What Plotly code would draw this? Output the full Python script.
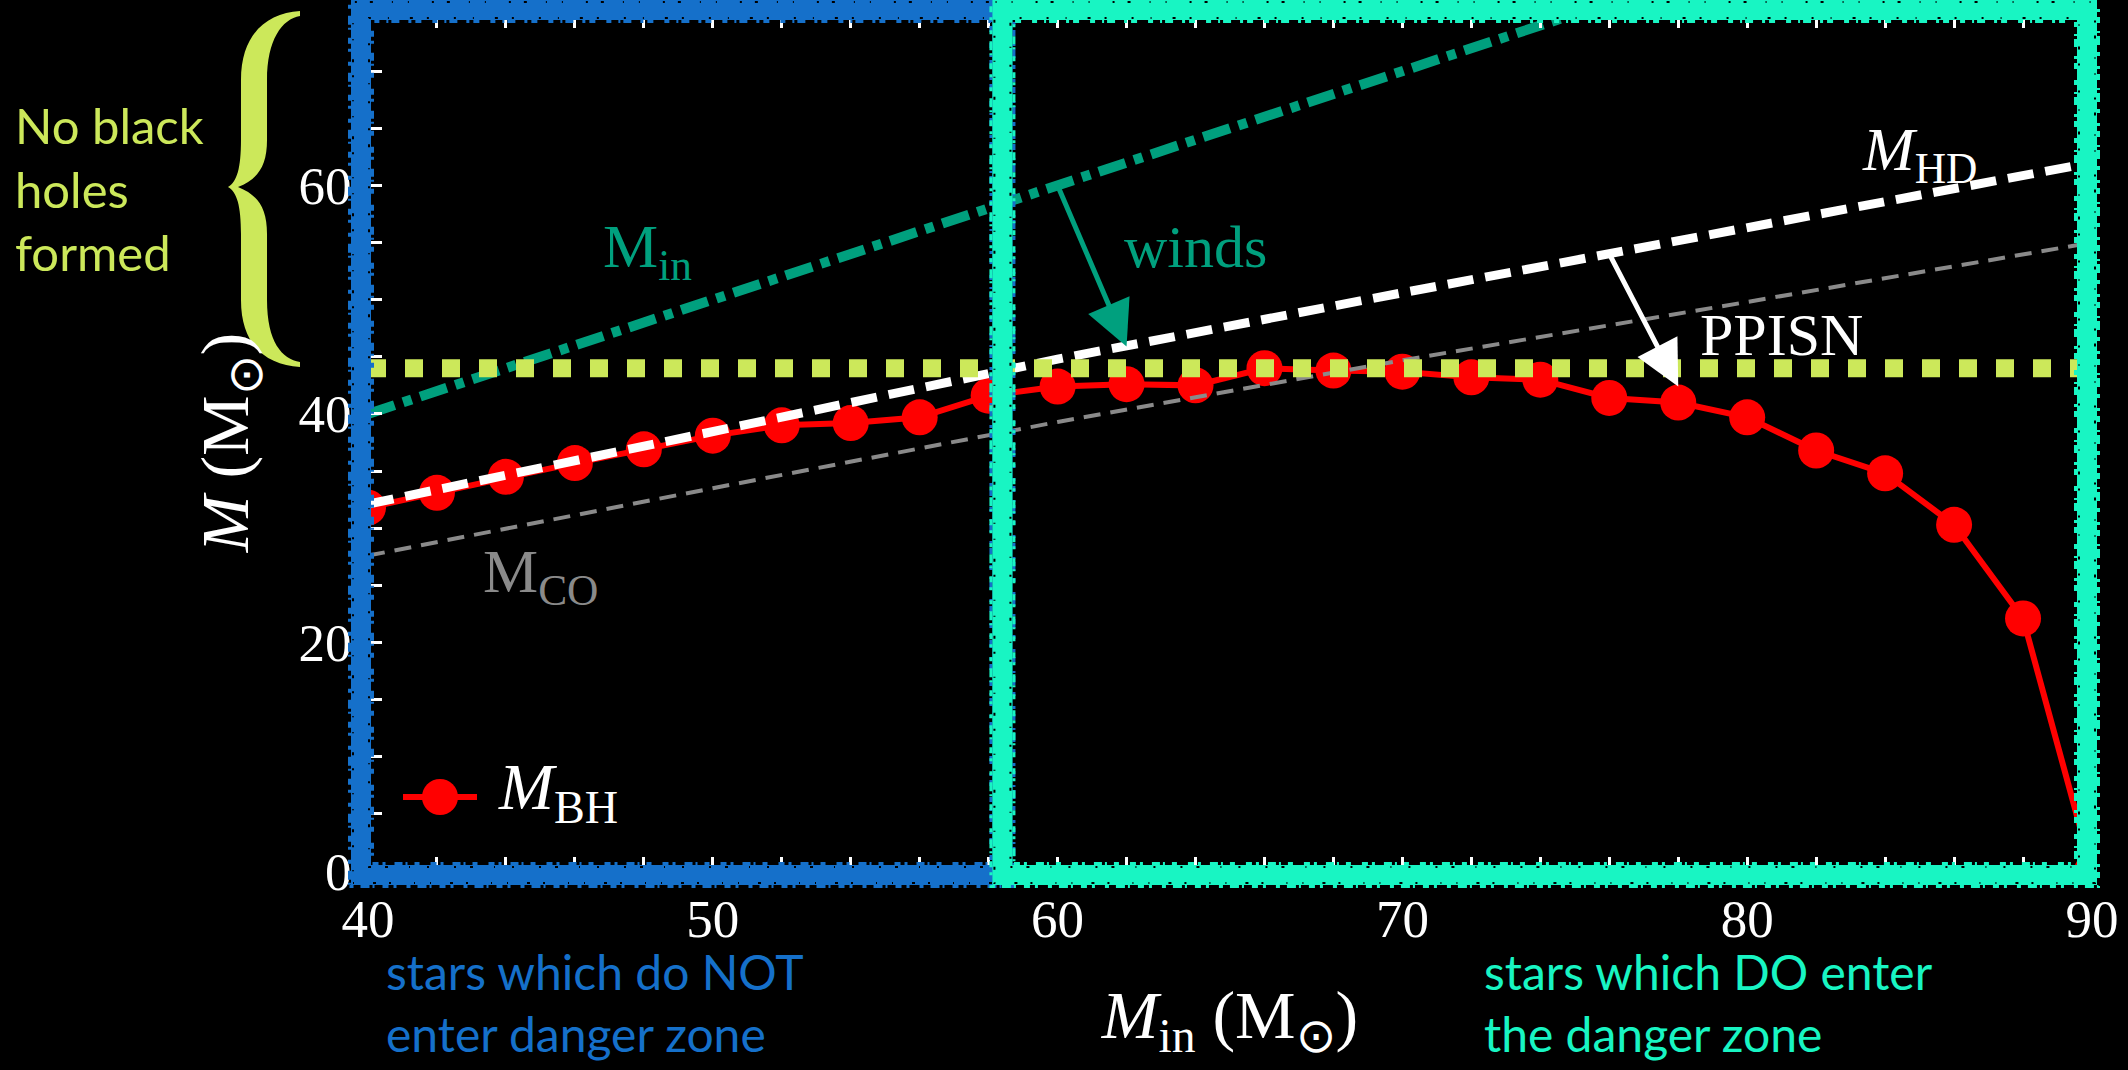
import plotly.graph_objects as go

# ---------------------------------------------------------------- data
# initial stellar mass grid (Msun) and the resulting black-hole mass
m_initial = [40, 42, 44, 46, 48, 50, 52, 54, 56, 58, 60, 62, 64,
             66, 68, 70, 72, 74, 76, 78, 80, 82, 84, 86, 88, 90]
m_bh = [31.8, 33.1, 34.5, 35.7, 36.9, 38.1, 39.0, 39.2, 39.7, 41.6, 42.4, 42.6, 42.5,
        44.0, 43.8, 43.7, 43.2, 43.0, 41.4, 41.0, 39.7, 36.8, 34.8, 30.3, 22.1, 0.0]

# helium-depleted and CO core masses along the same tracks
m_track = [40, 50, 60, 70, 80, 90]
m_hd = [32.1, 38.5, 44.8, 50.6, 56.3, 62.0]
m_co = [27.6, 33.5, 39.3, 44.7, 49.8, 55.0]

# one-to-one line M = M_in
m_in_line = [40, 90]

ppisn_limit = 44.0          # mass above which no black holes form
danger_threshold = 58.4     # initial mass where stars reach the danger zone

x_ticks = [40, 50, 60, 70, 80, 90]
y_ticks = [0, 20, 40, 60]
x_range = [40, 90]
y_range = [0, 75]

# ---------------------------------------------------------------- style
W, H = 2128, 1070
ML, MR, MT, MB = 368, 36, 14, 199

RED = "#FF0000"
TEAL = "#00A07E"
GREY = "#8A8A8A"
LIME = "#CCE85A"
BLUE = "#1570CA"
AQUA = "#18F5C3"
SERIF = "Liberation Serif, Times New Roman, serif"
SANS = "Lato, Carlito, Calibri, sans-serif"

PW = W - ML - MR
PH = H - MT - MB


def px_x(p):
    return (p - ML) / PW


def px_y(p):
    return (H - MB - p) / PH


def data_x(v):
    return (v - x_range[0]) / (x_range[1] - x_range[0])


fig = go.Figure()

fig.add_trace(go.Scatter(
    x=m_in_line, y=m_in_line, mode="lines",
    line=dict(color=TEAL, width=10, dash="28px,9px,9px,9px"),
    hoverinfo="skip", showlegend=False))

fig.add_trace(go.Scatter(
    x=m_initial, y=m_bh, mode="lines+markers", name="M_BH",
    line=dict(color=RED, width=6),
    marker=dict(color=RED, size=36),
    showlegend=False))

fig.add_trace(go.Scatter(
    x=m_track, y=m_co, mode="lines",
    line=dict(color=GREY, width=4, dash="17px,10px"),
    hoverinfo="skip", showlegend=False))

fig.add_trace(go.Scatter(
    x=m_track, y=m_hd, mode="lines",
    line=dict(color="white", width=9, dash="26px,12px"),
    hoverinfo="skip", showlegend=False))

fig.add_trace(go.Scatter(
    x=x_range, y=[ppisn_limit, ppisn_limit], mode="lines",
    line=dict(color=LIME, width=18, dash="18px,19px"),
    hoverinfo="skip", showlegend=False))

axis_common = dict(
    showgrid=False, zeroline=False,
    showline=True, linecolor="white", linewidth=2, mirror="ticks",
    ticks="inside", tickcolor="white", tickwidth=3, ticklen=14,
    tickfont=dict(family=SERIF, size=53, color="white"),
)

fig.update_xaxes(
    range=x_range, tickmode="array", tickvals=x_ticks,
    minor=dict(dtick=2, ticks="inside", ticklen=14, tickwidth=3, tickcolor="white"),
    ticklabelstandoff=0,
    title=dict(text="<i>M</i><sub>in</sub> (M<sub>⊙</sub>)",
               font=dict(family=SERIF, size=68, color="white"), standoff=44),
    **axis_common)
fig.update_yaxes(
    range=y_range, tickmode="array", tickvals=y_ticks,
    minor=dict(dtick=5, ticks="inside", ticklen=14, tickwidth=3, tickcolor="white"),
    ticklabelstandoff=4,
    title=dict(text="<i>M</i> (M<sub>⊙</sub>)",
               font=dict(family=SERIF, size=68, color="white"), standoff=28),
    **axis_common)

# ---------------------------------------------------------------- zone frames
band = 20
frames = [
    (BLUE, px_x(361), data_x(danger_threshold)),
    (AQUA, data_x(danger_threshold), px_x(2087)),
]
fy0, fy1 = px_y(875), px_y(10)
shapes = []
for col, x0, x1 in frames:
    shapes.append(dict(type="rect", xref="paper", yref="paper", layer="above",
                       x0=x0, x1=x1, y0=fy0, y1=fy1,
                       line=dict(color=col, width=band), fillcolor="rgba(0,0,0,0)"))
    # rough chalk edges: small bumps outside the stroke, nicks inside it
    for off, width, colour, pattern in (
            (-11.5, 3, col, "6px,4px,3px,9px,8px,3px,2px,7px,5px,11px"),
            (11.5, 3, col, "4px,7px,9px,3px,2px,8px,6px,5px,3px,10px"),
            (-8, 2, "black", "2px,14px,3px,21px,1px,17px,2px,25px"),
            (8, 2, "black", "1px,19px,3px,13px,2px,23px,1px,15px")):
        dx = off / PW
        dy = off / PH
        shapes.append(dict(type="rect", xref="paper", yref="paper", layer="above",
                           x0=x0 - dx, x1=x1 + dx, y0=fy0 - dy, y1=fy1 + dy,
                           line=dict(color=colour, width=width, dash=pattern),
                           fillcolor="rgba(0,0,0,0)"))

# curly brace next to the "no black holes" note
brace = [
    ("M", [(300, 11)]),
    ("C", [(266, 13), (241, 35), (241, 80)]),
    ("L", [(241, 140)]),
    ("C", [(241, 168), (237, 182), (228, 187)]),
    ("C", [(237, 192), (241, 206), (241, 234)]),
    ("L", [(241, 300)]),
    ("C", [(241, 345), (266, 365), (300, 367)]),
    ("L", [(300, 362)]),
    ("C", [(282, 359), (267, 342), (267, 300)]),
    ("L", [(267, 234)]),
    ("C", [(267, 208), (258, 195), (238, 187)]),
    ("C", [(258, 179), (267, 166), (267, 140)]),
    ("L", [(267, 80)]),
    ("C", [(267, 40), (282, 19), (300, 16)]),
]
path = ""
for cmd, pts in brace:
    path += cmd + " ".join(f"{px_x(a):.5f},{px_y(b):.5f}" for a, b in pts)
path += "Z"
shapes.append(dict(type="path", xref="paper", yref="paper", path=path,
                   fillcolor=LIME, line=dict(width=0), layer="above"))

# legend key for the black-hole curve
lg_y = 797
shapes.append(dict(type="line", xref="paper", yref="paper",
                   x0=px_x(403), x1=px_x(477), y0=px_y(lg_y), y1=px_y(lg_y),
                   line=dict(color=RED, width=6)))
shapes.append(dict(type="circle", xref="paper", yref="paper",
                   x0=px_x(440 - 18), x1=px_x(440 + 18),
                   y0=px_y(lg_y + 18), y1=px_y(lg_y - 18),
                   fillcolor=RED, line=dict(width=0)))

# ---------------------------------------------------------------- labels
ann = []


def label(x, y, text, color, size=62, **kw):
    ann.append(dict(x=x, y=y, xref="x", yref="y", text=text, showarrow=False,
                    font=dict(family=SERIF, size=size, color=color), **kw))


label(48.1, 54.3, "M<sub>in</sub>", TEAL)
label(64.0, 54.6, "winds", TEAL, size=60)
label(85.0, 62.8, "<i>M</i><sub>HD</sub>", "white")
label(81.0, 46.9, "PPISN", "white", size=60)
label(45.0, 25.9, "M<sub>CO</sub>", GREY)

# arrows: winds strip the envelope, PPISN caps the remnant
ann.append(dict(x=62, y=45.9, ax=60, ay=60, xref="x", yref="y", axref="x", ayref="y",
                text="", showarrow=True, arrowhead=2, arrowsize=1.8, arrowwidth=5,
                arrowcolor=TEAL, standoff=0))
ann.append(dict(x=78, y=42.4, ax=76, ay=54.0, xref="x", yref="y", axref="x", ayref="y",
                text="", showarrow=True, arrowhead=2, arrowsize=1.8, arrowwidth=5,
                arrowcolor="white", standoff=0))

# legend text
ann.append(dict(x=px_x(496), y=px_y(791), xref="paper", yref="paper",
                xanchor="left", yanchor="middle", showarrow=False,
                text="<i>M</i><sub>BH</sub>",
                font=dict(family=SERIF, size=66, color="white")))

# notes outside the axes
ann.append(dict(x=px_x(13), y=px_y(94), xref="paper", yref="paper",
                xanchor="left", yanchor="top", align="left", showarrow=False,
                text="No black<br>holes<br>formed",
                font=dict(family=SANS, size=49, color=LIME)))
ann.append(dict(x=px_x(384), y=px_y(941), xref="paper", yref="paper",
                xanchor="left", yanchor="top", align="left", showarrow=False,
                text="stars which do NOT<br>enter danger zone",
                font=dict(family=SANS, size=48, color=BLUE)))
ann.append(dict(x=px_x(1482), y=px_y(941), xref="paper", yref="paper",
                xanchor="left", yanchor="top", align="left", showarrow=False,
                text="stars which DO enter<br>the danger zone",
                font=dict(family=SANS, size=48, color=AQUA)))

fig.update_layout(
    width=W, height=H,
    margin=dict(l=ML, r=MR, t=MT, b=MB, autoexpand=False),
    paper_bgcolor="black", plot_bgcolor="black",
    showlegend=False,
    shapes=shapes, annotations=ann,
)

fig.write_html("out.html")
